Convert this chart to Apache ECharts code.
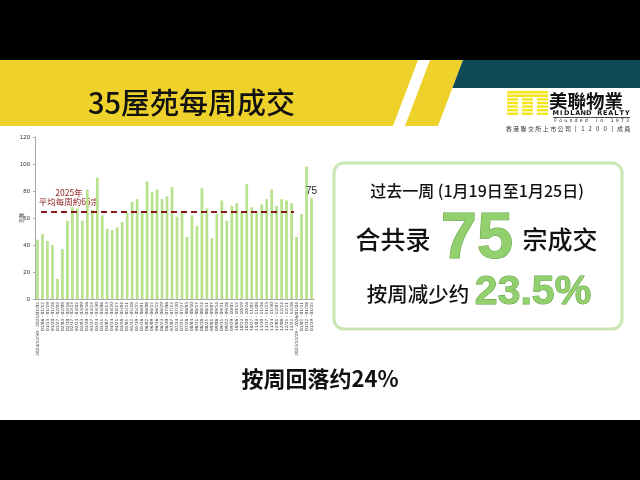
<!DOCTYPE html>
<html><head><meta charset="utf-8">
<script src="https://cdn.jsdelivr.net/npm/echarts@6/dist/echarts.min.js"></script>
<style>html,body{margin:0;padding:0;background:#fff}#c{width:640px;height:480px}</style>
</head><body><div id="c"></div><script>
const categories = [
"2024/12/30 - 2025/01/05","01/06 - 01/12","01/13 - 01/19","01/20 - 01/26","01/27 - 02/02","02/03 - 02/09","02/10 - 02/16","02/17 - 02/23","02/24 - 03/02","03/03 - 03/09",
"03/10 - 03/16","03/17 - 03/23","03/24 - 03/30","03/31 - 04/06","04/07 - 04/13","04/14 - 04/20","04/21 - 04/27","04/28 - 05/04","05/05 - 05/11","05/12 - 05/18",
"05/19 - 05/25","05/26 - 06/01","06/02 - 06/08","06/09 - 06/15","06/16 - 06/22","06/23 - 06/29","06/30 - 07/06","07/07 - 07/13","07/14 - 07/20","07/21 - 07/27",
"07/28 - 08/03","08/04 - 08/10","08/11 - 08/17","08/18 - 08/24","08/25 - 08/31","09/01 - 09/07","09/08 - 09/14","09/15 - 09/21","09/22 - 09/28","09/29 - 10/05",
"10/06 - 10/12","10/13 - 10/19","10/20 - 10/26","10/27 - 11/02","11/03 - 11/09","11/10 - 11/16","11/17 - 11/23","11/24 - 11/30","12/01 - 12/07","12/08 - 12/14",
"12/15 - 12/21","12/22 - 12/28","2025/12/29 - 2026/01/04","01/05 - 01/11","01/12 - 01/18","01/19 - 01/25"];
const weeklyDeals = [44,48,43,40,15,37,58,68,67,58,81,66,90,62,52,51,53,57,64,72,74,64,87,79,81,74,76,83,61,64,46,62,54,82,67,45,63,73,58,69,71,64,85,68,65,70,74,81,69,74,73,71,46,63,98,75];
const yTicks = [0,20,40,60,80,100,120];
const avgValue = 65;
const avgStartIndex = 0;
const avgEndIndex = 51;
const avgLabel1 = "2025年";
const avgLabel2 = "平均每周約65宗";
const titleText = "35屋苑每周成交";
const periodText = "过去一周 (1月19日至1月25日)";
const latestValue = "75";
const changeText = "23.5%";
const subtitleText = "按周回落约24%";

const chart = echarts.init(document.getElementById('c'), null, {renderer:'canvas'});
const CJK = '"Noto Sans CJK SC","Noto Sans CJK TC",sans-serif';
const TC = '"Noto Sans CJK TC","Noto Sans CJK SC",sans-serif';
const lastIdx = weeklyDeals.length - 1;
const barData = weeklyDeals.map((v,i)=> i===lastIdx ? {value:v, label:{show:true, position:'top', distance:2, formatter:'{c}', fontSize:10, color:'#222', fontFamily:'Liberation Sans, Arial', offset:[0,0]}} : v);

function T(text,x,y,font,fill,align,extra){
  return {type:'text', style:Object.assign({text, x, y, font, fill, align:align||'left', verticalAlign:'middle', textAlign:align||'left', textVerticalAlign:'middle'}, extra||{})};
}
function spread(str, x0, x1, y, font, fill){
  const chars = Array.from(str);
  const step = (x1 - x0) / chars.length;
  return chars.map((ch,i)=> T(ch, x0 + step*(i+0.5), y, font, fill, 'center'));
}

// logo stripes
const logo = [];
for (let k=0;k<7;k++){
  const y = 91 + k*3.6;
  if (k<2){
    logo.push({type:'rect', shape:{x:507,y:y,width:41,height:2.4}, style:{fill:'#f4e61a'}});
  } else {
    [[507,518],[522,533],[537,548]].forEach(c=>logo.push({type:'rect', shape:{x:c[0],y:y,width:c[1]-c[0],height:2.4}, style:{fill:'#f4e61a'}}));
  }
}

const graphics = [
  {type:'rect', shape:{x:0,y:0,width:640,height:60}, style:{fill:'#000'}},
  {type:'polygon', shape:{points:[[0,60],[418,60],[393,126],[0,126]]}, style:{fill:'#eed22b'}},
  {type:'polygon', shape:{points:[[430,60],[463,60],[438,126],[405,126]]}, style:{fill:'#eed22b'}},
  {type:'polygon', shape:{points:[[463,60],[640,60],[640,88],[452.4,88]]}, style:{fill:'#0e4b56'}},
  {type:'rect', shape:{x:0,y:420,width:640,height:60}, style:{fill:'#000'}},
  T(titleText, 88, 103, '500 29px '+CJK, '#111', 'left'),
  ...logo,
  T('美聯物業', 549, 101, 'bold 18.5px '+TC, '#111', 'left'),
  ...spread('MIDLAND REALTY', 553, 630, 113.8, 'bold 6.5px "DejaVu Sans", sans-serif', '#111'),
  {type:'rect', shape:{x:553,y:117.2,width:77,height:0.8}, style:{fill:'#111'}},
  ...spread('Founded in 1973', 553, 630, 120.5, '4.8px "DejaVu Sans", sans-serif', '#222'),
  ...spread('香港聯交所上市公司[1200]成員', 505, 631, 128.5, '6px '+TC, '#333'),
  // right box
  {type:'rect', shape:{x:334,y:163,width:288,height:166,r:10}, style:{fill:'#fff', stroke:'#c9e7b3', lineWidth:3}},
  T(periodText, 477, 191, '500 16px '+CJK, '#111', 'center'),
  T('合共录', 393, 239, '500 25px '+CJK, '#111', 'center'),
  T(latestValue, 477, 240, 'bold 65px "Liberation Sans", Arial, sans-serif', '#92d06d', 'center', {stroke:'#5f9d43', lineWidth:1}),
  T('宗成交', 560, 239, '500 25px '+CJK, '#111', 'center'),
  T('按周减少约', 418, 294, '500 20.5px '+CJK, '#111', 'center'),
  T(changeText, 533, 293, 'bold 41px "Liberation Sans", Arial, sans-serif', '#92d06d', 'center', {stroke:'#5f9d43', lineWidth:1}),
  // avg annotation
  T(avgLabel1, 69, 193, '8.5px '+CJK, '#8b1a1a', 'center'),
  T(avgLabel2, 69, 202, '8.5px '+CJK, '#8b1a1a', 'center'),
  // subtitle
  T(subtitleText, 320, 379, 'bold 22px '+CJK, '#111', 'center', {stroke:'#fff', lineWidth:2.5, shadowBlur:2, shadowColor:'#000'})
];

chart.setOption({
  animation:false,
  backgroundColor:'#fff',
  grid:{left:35, right:326, top:137, bottom:181, containLabel:false},
  xAxis:{type:'category', data:categories, boundaryGap:true,
    axisLine:{show:true, lineStyle:{color:'#aaa', width:1}},
    axisTick:{show:false},
    axisLabel:{interval:0, rotate:90, fontSize:4.3, color:'#444', margin:3, fontFamily:'"DejaVu Sans", sans-serif'}},
  yAxis:{type:'value', min:0, max:120, interval:20,
    name:'宗數', nameLocation:'middle', nameGap:11, nameRotate:90, nameMoveOverlap:false,
    nameTextStyle:{fontSize:5, color:'#444', fontFamily:TC},
    axisLine:{show:true, lineStyle:{color:'#aaa'}}, axisTick:{show:true, length:2, lineStyle:{color:'#aaa'}},
    splitLine:{show:false},
    axisLabel:{fontSize:6, color:'#333', margin:5, fontFamily:'"Liberation Sans", Arial, sans-serif'}},
  series:[{type:'bar', data:barData, barWidth:'55%', itemStyle:{color:'#b8e28e'},
    markLine:{silent:true, symbol:'none', label:{show:false},
      lineStyle:{color:'#8b1a1a', width:2, type:[6,4]},
      data:[[{coord:[avgStartIndex, avgValue], x:41},{coord:[avgEndIndex, avgValue], x:294}]]}}],
  graphic:graphics
});
</script></body></html>
